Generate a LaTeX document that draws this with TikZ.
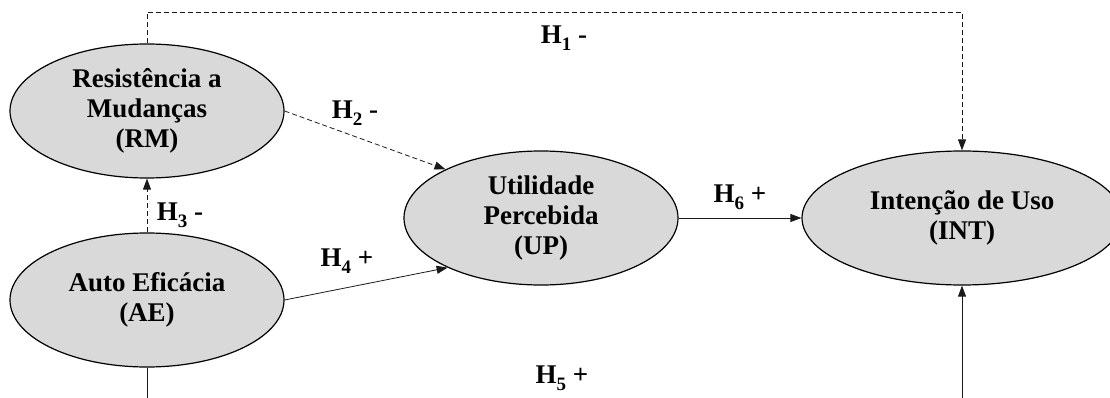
\documentclass[tikz,border=0pt]{standalone}
\usepackage{fontspec}
\setmainfont{Liberation Serif}
\usepackage{tikz}
\usetikzlibrary{positioning, shapes.geometric, arrows.meta}
\definecolor{constructFill}{HTML}{D9D9D9}
\definecolor{lineBlack}{HTML}{1A1A1A}

\newcommand{\hsub}[1]{\raisebox{-0.25em}{\fontsize{19}{19}\selectfont #1}}

\tikzset{
  construct/.style={ellipse, draw=black, line width=1.2pt, fill=constructFill,
    minimum width=274pt, minimum height=134pt, inner sep=0pt, align=center,
    font=\fontsize{27}{30}\selectfont\bfseries},
  hyp/.style={font=\fontsize{27}{30}\selectfont\bfseries, inner sep=0pt},
  link/.style={lineBlack, line width=0.8pt, -{Triangle[length=11pt,width=8pt]}},
  dashlink/.style={link, dash pattern=on 5pt off 3pt}
}

\begin{document}
\begin{tikzpicture}[x=1pt, y=-1pt]
  \useasboundingbox (0,0) rectangle (1110,398);

  % constructs
  \node[construct] (rm)  at (147,111) {Resistência a\\Mudanças\\(RM)};
  \node[construct] (ae)  at (147,300) {Auto Eficácia\\(AE)};
  \node[construct] (up)  at (541,218) {Utilidade\\Percebida\\(UP)};
  \node[construct, minimum width=320pt] (int) at (962,218) {Intenção de Uso\\(INT)};

  % free ends of the paths
  \coordinate (top)   at (555,12);
  \coordinate (aeout) at (147,398);
  \coordinate (intin) at (962,398);

  % hypotheses
  \draw[dashlink] (rm.north) |- (top) -| (int.north);
  \draw[dashlink] (rm.east) -- (up.153);
  \draw[dashlink] (ae.north) -- (rm.south);
  \draw[link] (ae.east) -- (up.208);
  \draw[link] (up.east) -- (int.west);
  \draw[lineBlack, line width=0.8pt] (ae.south) -- (aeout);
  \draw[link] (intin) -- (int.south);

  \node[hyp] (h1) at (564,38)  {H\hsub{1} -};
  \node[hyp] (h2) at (355,113) {H\hsub{2} -};
  \node[hyp] (h3) at (180,215) {H\hsub{3} -};
  \node[hyp] (h4) at (347,261) {H\hsub{4} +};
  \node[hyp] (h5) at (562,378) {H\hsub{5} +};
  \node[hyp] (h6) at (740,197) {H\hsub{6} +};
\end{tikzpicture}
\end{document}
